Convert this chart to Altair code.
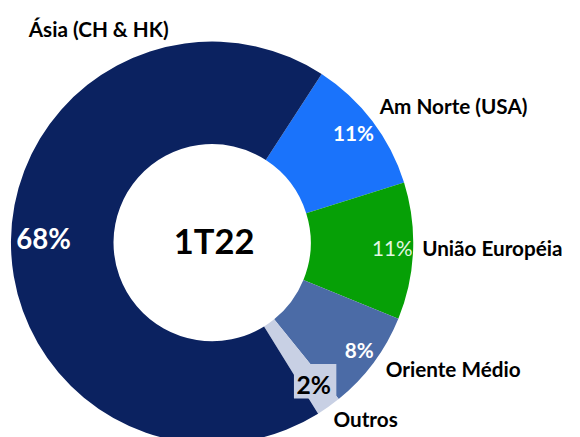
import math
import altair as alt
import pandas as pd

# ---- data ----
categories = ["Am Norte (USA)", "União Européia", "Oriente Médio", "Outros", "Ásia (CH & HK)"]
shares = [11, 11, 8, 2, 68]
center_label = "1T22"

# ---- style ----
colors = ["#1a73fb", "#06a006", "#4b6ba6", "#c8d0e4", "#0b2260"]
FONT = "Lato"
CX, CY = 207, 235          # donut centre inside the view
START = math.radians(33)   # where the first slice begins (clockwise from 12 o'clock)

df = pd.DataFrame({"cat": categories, "value": shares, "idx": list(range(len(categories)))})

theta_scale = alt.Scale(domain=[0, 100], range=[START, START + 2 * math.pi])
color_scale = alt.Scale(domain=categories, range=colors)

base = alt.Chart(df)

arcs = base.mark_arc(innerRadius=100, outerRadius=204, stroke=None).encode(
    theta=alt.Theta("value:Q", stack=True, scale=theta_scale),
    color=alt.Color("cat:N", scale=color_scale, legend=None),
    order=alt.Order("idx:Q"),
    x=alt.value(CX),
    y=alt.value(CY),
)

mids = base.transform_window(
    cum="sum(value)", sort=[alt.SortField("idx")], frame=[None, 0]
).transform_calculate(
    mid="datum.cum - datum.value / 2", label="datum.value + '%'"
)


def pct_layer(cat, radius, size, color, weight="bold"):
    return mids.transform_filter(alt.datum.cat == cat).mark_text(
        radius=radius, fontSize=size, font=FONT, fontWeight=weight, color=color,
        align="center", baseline="middle",
    ).encode(
        theta=alt.Theta("mid:Q", stack=False, scale=theta_scale),
        text="label:N",
        x=alt.value(CX),
        y=alt.value(CY),
    )


# light box behind the "2%" label
box = base.transform_filter(alt.datum.cat == "Outros").mark_rect(color="#c8d0e4").encode(
    x=alt.value(290), x2=alt.value(333), y=alt.value(358), y2=alt.value(393)
)

pcts = [
    pct_layer("Ásia (CH & HK)", 171, 28, "white"),
    pct_layer("Am Norte (USA)", 180, 21, "white"),
    pct_layer("União Européia", 183, 21, "#e2f7e2", "normal"),
    pct_layer("Oriente Médio", 186, 21, "white"),
    pct_layer("Outros", 178, 25, "black"),
]

label_pos = {
    "Ásia (CH & HK)": (21, 20),
    "Am Norte (USA)": (377, 98),
    "União Européia": (420, 242),
    "Oriente Médio": (383, 365),
    "Outros": (330, 416),
}


def cat_label(cat):
    x, y = label_pos[cat]
    return base.transform_filter(alt.datum.cat == cat).mark_text(
        fontSize=21, font=FONT, fontWeight="bold", color="black",
        align="left", baseline="middle",
    ).encode(text="cat:N", x=alt.value(x), y=alt.value(y))


cats = [cat_label(c) for c in categories]

center = alt.Chart(pd.DataFrame({"t": [center_label]})).mark_text(
    fontSize=35, font=FONT, fontWeight="bold", color="black", align="center", baseline="middle"
).encode(text="t:N", x=alt.value(CX + 2), y=alt.value(CY))

chart = alt.layer(arcs, box, *pcts, *cats, center).properties(
    width=572, height=429, padding=0, autosize="none"
).configure_view(stroke=None)

chart.save("out.html", embed_options={"renderer": "svg", "actions": False})
